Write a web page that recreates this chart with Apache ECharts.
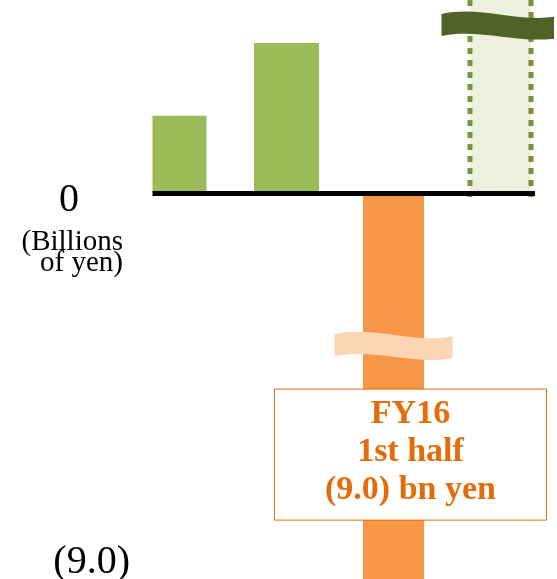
<!DOCTYPE html>
<html>
<head>
<meta charset="utf-8">
<script src="https://cdn.jsdelivr.net/npm/echarts@6/dist/echarts.min.js"></script>
<style>
  html, body { margin: 0; padding: 0; background: #fff; }
  #main { width: 557px; height: 579px; }
</style>
</head>
<body>
<div id="main"></div>
<script>
// data
var categories = ['FY14 1st half', 'FY15 1st half', 'FY16 1st half', 'FY16 full year'];
var values = [1.8, 3.5, -9.0, 4.5];
var yLabels = { '0': '0', '-9': '(9.0)' };
var unitLines = ['(Billions', 'of yen)'];
var boxLines = ['FY16', '1st half', '(9.0) bn yen'];
var breakValues = [null, null, -3.55, 3.92];   // where the wavy break marks sit
var boxValue = -6.1;                           // centre of the annotation box

// styles
var serif = '"Liberation Serif", "Times New Roman", serif';
var barWidths = [54, 65, 61, 61];
var barColors = ['#9BBB59', '#9BBB59', '#F79646', '#EBF1DE'];
var breakColors = [null, null, '#FCD5B5', '#4F6228'];
var dottedIndex = 3;

function wavePath(cx, cy) {
    var h = 59;
    return 'M' + (cx - h) + ' ' + (cy - 11) +
        ' C' + (cx - 20) + ' ' + (cy - 20) + ' ' + (cx + 20) + ' ' + (cy - 1) + ' ' + (cx + h) + ' ' + (cy - 9) +
        ' L' + (cx + h) + ' ' + (cy + 13) +
        ' C' + (cx + 20) + ' ' + (cy + 20) + ' ' + (cx - 20) + ' ' + (cy + 3) + ' ' + (cx - h) + ' ' + (cy + 11) + ' Z';
}

function renderItem(params, api) {
    var i = params.dataIndex;
    var v = api.value(1);
    var base = api.coord([i, 0]);
    var top = api.coord([i, v]);
    var w = barWidths[i];
    var x0 = base[0] - w / 2;
    var children = [];

    children.push({
        type: 'rect',
        shape: { x: x0, y: Math.min(base[1], top[1]), width: w, height: Math.abs(top[1] - base[1]) },
        style: { fill: barColors[i] }
    });

    if (i === dottedIndex) {
        [x0, x0 + w].forEach(function (lx) {
            children.push({
                type: 'line',
                z2: 5,
                shape: { x1: lx, y1: top[1], x2: lx, y2: base[1] + 4 },
                style: { stroke: '#77933C', lineWidth: 5, lineDash: [6, 6] }
            });
        });
    }

    if (breakValues[i] !== null) {
        var bp = api.coord([i, breakValues[i]]);
        children.push({
            type: 'path',
            z2: 8,
            shape: { pathData: wavePath(bp[0], bp[1]) },
            style: { fill: breakColors[i] }
        });
    }

    if (i === 2) {
        var bc = api.coord([i, boxValue]);
        var cx = bc[0] + 17;
        children.push({
            type: 'rect',
            z2: 10,
            shape: { x: cx - 136, y: bc[1] - 65.5, width: 272, height: 131 },
            style: { fill: '#fff', stroke: '#E46C0A', lineWidth: 1 }
        });
        children.push({
            type: 'text',
            z2: 11,
            style: {
                text: boxLines.join('\n'),
                x: cx,
                y: bc[1] - 2,
                align: 'center',
                verticalAlign: 'middle',
                font: 'bold 34px ' + serif,
                lineHeight: 38,
                fill: '#E46C0A'
            }
        });
    }

    if (i === 0) {
        var last = categories.length - 1;
        var end = api.coord([last, 0]);
        children.push({
            type: 'line',
            z2: 20,
            shape: { x1: x0, y1: base[1] + 0.5, x2: end[0] + barWidths[last] / 2 + 4, y2: base[1] + 0.5 },
            style: { stroke: '#000', lineWidth: 5 }
        });
    }

    return { type: 'group', children: children };
}

var chart = echarts.init(document.getElementById('main'));
chart.setOption({
    animation: false,
    grid: { left: 126, right: 3, top: 0, bottom: 0, outerBoundsMode: 'none', containLabel: false },
    xAxis: {
        type: 'category',
        data: categories,
        axisLine: { show: false },
        axisTick: { show: false },
        axisLabel: { show: false },
        splitLine: { show: false }
    },
    yAxis: {
        type: 'value',
        min: -9,
        max: 4.5,
        interval: 4.5,
        axisLine: { show: false },
        axisTick: { show: false },
        splitLine: { show: false },
        axisLabel: {
            margin: -4,
            align: 'right',
            showMinLabel: true,
            fontFamily: serif,
            color: '#000',
            formatter: function (val) {
                var t = yLabels[String(val)];
                if (t === undefined) return '';
                if (val === 0) {
                    return '{sp| }\n{z|' + t + '}\n{u|' + unitLines[0] + '}\n{r|' + unitLines[1] + '}';
                }
                return '{n|' + t + '}\n{sq| }';
            },
            rich: {
                sp: { fontSize: 10, lineHeight: 56, width: 122 },
                z: { fontFamily: serif, fontSize: 40, lineHeight: 64, width: 122, align: 'center', color: '#000' },
                u: { fontFamily: serif, fontSize: 29, lineHeight: 21, width: 115, align: 'right', padding: [0, 7, 0, 0], color: '#000' },
                r: { fontFamily: serif, fontSize: 29, lineHeight: 21, width: 115, align: 'right', padding: [0, 7, 0, 0], color: '#000' },
                n: { fontFamily: serif, fontSize: 40, lineHeight: 34, color: '#000' },
                sq: { fontSize: 10, lineHeight: 34 }
            }
        }
    },
    series: [{
        type: 'custom',
        clip: true,
        renderItem: renderItem,
        encode: { x: 0, y: 1 },
        data: values.map(function (v, i) { return [i, v]; })
    }]
});
</script>
</body>
</html>
